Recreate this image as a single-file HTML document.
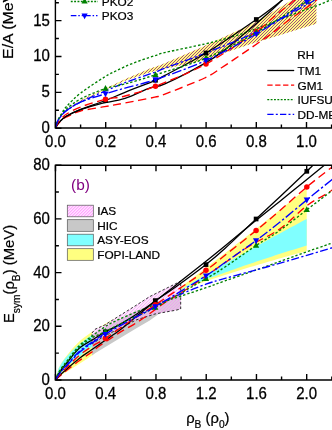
<!DOCTYPE html>
<html lang="en"><head><meta charset="utf-8"><title>Symmetry energy</title>
<style>
html,body{margin:0;padding:0;background:#fff;}
body{width:332px;height:430px;overflow:hidden;}
svg{display:block;will-change:transform;}
text{font-family:"Liberation Sans",sans-serif;fill:#000;}
.tk{font-size:15px;stroke:#000;stroke-width:0.25px;}
.lg{font-size:11.8px;stroke:#000;stroke-width:0.22px;}
.ti{font-size:15.6px;stroke:#000;stroke-width:0.22px;}
.sb{font-size:10.2px;}
</style></head><body>
<svg width="332" height="430" viewBox="0 0 332 430">
<defs>
<pattern id="hy" width="1.75" height="1.75" patternUnits="userSpaceOnUse" patternTransform="rotate(45)"><rect width="1.75" height="1.75" fill="#ffff80"/><line x1="0.9" y1="0" x2="0.9" y2="1.75" stroke="#8a2a6a" stroke-width="0.55"/></pattern>
<pattern id="hp" width="2.4" height="2.4" patternUnits="userSpaceOnUse" patternTransform="rotate(45)"><line x1="1.2" y1="0" x2="1.2" y2="2.4" stroke="#ff50ff" stroke-width="0.55"/></pattern>
<clipPath id="ct"><rect x="55.5" y="-5" width="400" height="133"/></clipPath>
<clipPath id="cb"><rect x="55.5" y="165.3" width="400" height="214.7"/></clipPath>
</defs>
<rect width="332" height="430" fill="#fff"/>
<g clip-path="url(#ct)">
<clipPath id="cband"><path d="M66,109.8L80.6,100.3L90,95.7L100,91.2L125,79.2L150,68.5L160,65.2L200,48L250,24.9L292.2,0L300,-5L316.4,-5L316.4,23.7L277,35.9L250,44.2L200,61.3L160,69.8L150,72.2L125,80.8L100,92.3L90,96.9L80.6,101.6L66,111Z"/></clipPath>
<path d="M66,109.8L80.6,100.3L90,95.7L100,91.2L125,79.2L150,68.5L160,65.2L200,48L250,24.9L292.2,0L300,-5L316.4,-5L316.4,23.7L277,35.9L250,44.2L200,61.3L160,69.8L150,72.2L125,80.8L100,92.3L90,96.9L80.6,101.6L66,111Z" fill="#ffff80"/>
<path d="M60,110 l120,-120M63,110 l120,-120M66,110 l120,-120M69,110 l120,-120M72,110 l120,-120M75,110 l120,-120M78,110 l120,-120M81,110 l120,-120M84,110 l120,-120M87,110 l120,-120M90,110 l120,-120M93,110 l120,-120M96,110 l120,-120M99,110 l120,-120M102,110 l120,-120M105,110 l120,-120M108,110 l120,-120M111,110 l120,-120M114,110 l120,-120M117,110 l120,-120M120,110 l120,-120M123,110 l120,-120M126,110 l120,-120M129,110 l120,-120M132,110 l120,-120M135,110 l120,-120M138,110 l120,-120M141,110 l120,-120M144,110 l120,-120M147,110 l120,-120M150,110 l120,-120M153,110 l120,-120M156,110 l120,-120M159,110 l120,-120M162,110 l120,-120M165,110 l120,-120M168,110 l120,-120M171,110 l120,-120M174,110 l120,-120M177,110 l120,-120M180,110 l120,-120M183,110 l120,-120M186,110 l120,-120M189,110 l120,-120M192,110 l120,-120M195,110 l120,-120M198,110 l120,-120M201,110 l120,-120M204,110 l120,-120M207,110 l120,-120M210,110 l120,-120M213,110 l120,-120M216,110 l120,-120M219,110 l120,-120M222,110 l120,-120M225,110 l120,-120M228,110 l120,-120M231,110 l120,-120M234,110 l120,-120M237,110 l120,-120M240,110 l120,-120M243,110 l120,-120M246,110 l120,-120M249,110 l120,-120M252,110 l120,-120M255,110 l120,-120M258,110 l120,-120M261,110 l120,-120M264,110 l120,-120M267,110 l120,-120M270,110 l120,-120M273,110 l120,-120M276,110 l120,-120M279,110 l120,-120M282,110 l120,-120M285,110 l120,-120M288,110 l120,-120M291,110 l120,-120M294,110 l120,-120M297,110 l120,-120M300,110 l120,-120M303,110 l120,-120M306,110 l120,-120M309,110 l120,-120M312,110 l120,-120M315,110 l120,-120M318,110 l120,-120M321,110 l120,-120M324,110 l120,-120M327,110 l120,-120" stroke="#800080" stroke-width="0.72" fill="none" clip-path="url(#cband)"/>
<path d="M55.5,128C55.92,126.83 56.92,123.5 58,121C59.08,118.5 60.57,115.43 62,113C63.43,110.57 63.5,109.72 66.6,106.4C69.7,103.08 74.25,98.02 80.6,93.1C86.95,88.18 98.7,80.65 104.7,76.9C110.7,73.15 111.87,72.88 116.6,70.6C121.33,68.32 126.75,65.68 133.1,63.2C139.45,60.72 149.22,57.52 154.7,55.7C160.18,53.88 157.67,54.25 166,52.3C174.33,50.35 194.07,46.47 204.7,44C215.32,41.53 222.2,39.67 229.75,37.5C237.3,35.33 239.96,34.67 250,31C260.04,27.33 278.93,19.7 290,15.5C301.07,11.3 310.23,8.13 316.4,5.8C322.57,3.47 323.73,2.8 327,1.5C330.27,0.2 334.5,-1.42 336,-2" fill="none" stroke="#008000" stroke-width="1.35" stroke-dasharray="2.4,2.0"/>
<path d="M55.5,128C55.92,127.33 56.92,125.33 58,124C59.08,122.67 60.57,121.17 62,120C63.43,118.83 63.5,118.5 66.6,117C69.7,115.5 74.25,112.72 80.6,111C86.95,109.28 97.3,108.03 104.7,106.7C112.1,105.37 116.67,104.58 125,103C133.33,101.42 148.05,98.68 154.7,97.2C161.35,95.72 156.57,97.3 164.9,94.1C173.23,90.9 195.2,82.43 204.7,78C214.2,73.57 216.75,70.77 221.9,67.5C227.05,64.23 230.92,61.55 235.6,58.4C240.28,55.25 244.57,52.33 250,48.6C255.43,44.87 263.7,39.2 268.2,36C272.7,32.8 274.27,31.52 277,29.4C279.73,27.28 281.95,25.32 284.6,23.3C287.25,21.28 290.4,19.05 292.9,17.3C295.4,15.55 295.65,15.68 299.6,12.8C303.55,9.92 312.53,3.05 316.6,0C320.67,-3.05 322.77,-4.58 324,-5.5" fill="none" stroke="#ff0000" stroke-width="1.35" stroke-dasharray="8.2,4.6"/>
<path d="M55.5,128C55.92,127.25 56.92,124.92 58,123.5C59.08,122.08 60.57,120.75 62,119.5C63.43,118.25 63.5,117.63 66.6,116C69.7,114.37 75.03,111.73 80.6,109.7C86.17,107.67 92.6,105.68 100,103.8C107.4,101.92 116.67,101.05 125,98.4C133.33,95.75 143.35,90.32 150,87.9C156.65,85.48 155.78,87.98 164.9,83.9C174.02,79.82 194.7,69.1 204.7,63.4C214.7,57.7 216.57,56.12 224.9,49.7C233.23,43.28 246.35,32.02 254.7,24.9C263.05,17.78 269.78,11.82 275,7C280.22,2.18 284.17,-2.17 286,-4" fill="none" stroke="#000" stroke-width="1.3"/>
<path d="M55.5,128C55.92,126.75 56.92,122.67 58,120.5C59.08,118.33 60.57,116.67 62,115C63.43,113.33 63.5,112.67 66.6,110.5C69.7,108.33 73.65,105.47 80.6,102C87.55,98.53 100.9,92.93 108.3,89.7C115.7,86.47 117.27,85.5 125,82.6C132.73,79.7 148.05,74.72 154.7,72.3C161.35,69.88 156.35,71.32 164.9,68.1C173.45,64.88 190.82,59.02 206,53C221.18,46.98 239.55,39.87 256,32C272.45,24.13 294.03,11.63 304.7,5.8C315.37,-0.03 317.45,-1.53 320,-3" fill="none" stroke="#0000ff" stroke-width="1.35" stroke-dasharray="8,2.4,2.2,2.4"/>
<path d="M55.5,128C55.92,127.25 56.92,124.92 58,123.5C59.08,122.08 60.57,120.75 62,119.5C63.43,118.25 63.5,117.68 66.6,116C69.7,114.32 74.12,111.98 80.6,109.4C87.08,106.82 98.1,103.35 105.5,100.5C112.9,97.65 116.67,95.67 125,92.3C133.33,88.93 148.85,83.12 155.5,80.3C162.15,77.48 156.48,79.95 164.9,75.4C173.32,70.85 190.77,62.32 206,53C221.23,43.68 243.58,28.33 256.3,19.5C269.02,10.67 276.68,4.25 282.3,0C287.92,-4.25 288.72,-5 290,-6" fill="none" stroke="#000" stroke-width="1.3"/>
<path d="M55.5,128C55.92,127.08 56.92,124.17 58,122.5C59.08,120.83 60.57,119.42 62,118C63.43,116.58 63.5,115.83 66.6,114C69.7,112.17 74.12,109.45 80.6,107C87.08,104.55 98.1,101.13 105.5,99.3C112.9,97.47 116.67,98.18 125,96C133.33,93.82 142,91.55 155.5,86.2C169,80.85 189.2,73.02 206,63.9C222.8,54.78 245.22,39.15 256.3,31.5C267.38,23.85 268.38,21.42 272.5,18C276.62,14.58 278.3,13.17 281,11C283.7,8.83 286.37,6.83 288.7,5C291.03,3.17 292.95,1.67 295,0C297.05,-1.67 300,-4.17 301,-5" fill="none" stroke="#ff0000" stroke-width="1.35" stroke-dasharray="8.2,4.6"/>
<path d="M55.5,128C55.92,126.67 56.92,122.33 58,120C59.08,117.67 60.57,115.85 62,114C63.43,112.15 63.5,111.42 66.6,108.9C69.7,106.38 74.12,102.3 80.6,98.9C87.08,95.5 98.1,90.98 105.5,88.5C112.9,86.02 116.67,86.28 125,84C133.33,81.72 142,79.13 155.5,74.8C169,70.47 189.2,65.05 206,58C222.8,50.95 239.5,42 256.3,32.5C273.1,23 296.18,7.75 306.8,1C317.42,-5.75 317.8,-6.5 320,-8" fill="none" stroke="#008000" stroke-width="1.35" stroke-dasharray="2.4,2.0"/>
<path d="M55.5,128C55.92,126.75 56.92,122.67 58,120.5C59.08,118.33 60.57,116.67 62,115C63.43,113.33 63.5,112.63 66.6,110.5C69.7,108.37 74.12,104.98 80.6,102.2C87.08,99.42 98.1,96.15 105.5,93.8C112.9,91.45 116.67,90.47 125,88.1C133.33,85.73 142,84.22 155.5,79.6C169,74.98 189.2,68 206,60.4C222.8,52.8 239.5,43.78 256.3,34C273.1,24.22 296.18,8.53 306.8,1.7C317.42,-5.13 317.8,-5.55 320,-7" fill="none" stroke="#0000ff" stroke-width="1.35" stroke-dasharray="9.6,2.4,2.3,2.4"/>
<rect x="103.15" y="98.15" width="4.7" height="4.7" fill="#000"/>
<rect x="153.15" y="77.95" width="4.7" height="4.7" fill="#000"/>
<rect x="203.65" y="50.65" width="4.7" height="4.7" fill="#000"/>
<rect x="253.95" y="17.15" width="4.7" height="4.7" fill="#000"/>
<circle cx="105.5" cy="99.3" r="2.75" fill="#ff0000"/>
<circle cx="155.5" cy="86.2" r="2.75" fill="#ff0000"/>
<circle cx="206" cy="63.9" r="2.75" fill="#ff0000"/>
<circle cx="256.3" cy="31.5" r="2.75" fill="#ff0000"/>
<path d="M105.5,84.94 L108.6,90.83 L102.4,90.83 Z" fill="#008000"/>
<path d="M155.5,71.23 L158.6,77.12 L152.4,77.12 Z" fill="#008000"/>
<path d="M206,54.44 L209.1,60.33 L202.9,60.33 Z" fill="#008000"/>
<path d="M256.3,28.93 L259.4,34.83 L253.2,34.83 Z" fill="#008000"/>
<path d="M306.8,-2.56 L309.9,3.33 L303.7,3.33 Z" fill="#008000"/>
<path d="M105.5,97.36 L108.6,91.47 L102.4,91.47 Z" fill="#0000ff"/>
<path d="M155.5,83.16 L158.6,77.27 L152.4,77.27 Z" fill="#0000ff"/>
<path d="M206,63.96 L209.1,58.07 L202.9,58.07 Z" fill="#0000ff"/>
<path d="M256.3,37.56 L259.4,31.68 L253.2,31.68 Z" fill="#0000ff"/>
<path d="M306.8,5.26 L309.9,-0.63 L303.7,-0.63 Z" fill="#0000ff"/>
</g>
<g stroke="#000" stroke-width="1.4" fill="none">
<path d="M55.4,-2 V128 H334"/>
<path d="M55.5,128.2 h6M55.5,92.35 h6M55.5,56.5 h6M55.5,20.65 h6M55.5,110.27 h3.4M55.5,74.42 h3.4M55.5,38.57 h3.4M55.5,2.72 h3.4M55.5,128 v-6M80.6,128 v-3.6M105.7,128 v-6M130.8,128 v-3.6M155.9,128 v-6M181,128 v-3.6M206.1,128 v-6M231.2,128 v-3.6M256.3,128 v-6M281.4,128 v-3.6M306.5,128 v-6M331.6,128 v-3.6"/>
</g>
<text class="tk" transform="translate(49.8,133.1) scale(1,1.07)" text-anchor="end">0</text>
<text class="tk" transform="translate(49.8,97.25) scale(1,1.07)" text-anchor="end">5</text>
<text class="tk" transform="translate(49.8,61.4) scale(1,1.07)" text-anchor="end">10</text>
<text class="tk" transform="translate(49.8,25.55) scale(1,1.07)" text-anchor="end">15</text>
<text class="tk" transform="translate(55.5,147.1) scale(1,1.07)" text-anchor="middle">0.0</text>
<text class="tk" transform="translate(105.7,147.1) scale(1,1.07)" text-anchor="middle">0.2</text>
<text class="tk" transform="translate(155.9,147.1) scale(1,1.07)" text-anchor="middle">0.4</text>
<text class="tk" transform="translate(206.1,147.1) scale(1,1.07)" text-anchor="middle">0.6</text>
<text class="tk" transform="translate(256.3,147.1) scale(1,1.07)" text-anchor="middle">0.8</text>
<text class="tk" transform="translate(306.5,147.1) scale(1,1.07)" text-anchor="middle">1.0</text>
<text class="ti" style="font-size:15.9px" transform="translate(12.8,58.9) rotate(-90) scale(1,0.94)">E/A (MeV)</text>
<path d="M70.8,1.5 H98" stroke="#008000" stroke-width="1.3" stroke-dasharray="1.9,1.45" fill="none"/>
<path d="M84.6,-2.26 L87.7,3.62 L81.5,3.62 Z" fill="#008000"/>
<text class="lg" x="101.8" y="5.5">PKO2</text>
<path d="M70.8,15.7 H98" stroke="#0000ff" stroke-width="1.3" stroke-dasharray="5.6,1.9,1.5,1.9,1.5,1.9" fill="none"/>
<path d="M84.6,19.27 L87.7,13.38 L81.5,13.38 Z" fill="#0000ff"/>
<text class="lg" x="101.8" y="19.6">PKO3</text>
<text class="lg" x="297.3" y="58.6">RH</text>
<path d="M267.3,70.5 H294.2" stroke="#000" stroke-width="1.3" fill="none"/>
<text class="lg" x="297.5" y="74.8">TM1</text>
<path d="M267.3,85.2 H294.2" stroke="#ff0000" stroke-width="1.3" fill="none" stroke-dasharray="5.3,2.6"/>
<text class="lg" x="297.5" y="89.5">GM1</text>
<path d="M267.3,99.7 H294.2" stroke="#008000" stroke-width="1.3" fill="none" stroke-dasharray="1.9,1.45"/>
<text class="lg" x="297.5" y="104">IUFSU</text>
<path d="M267.3,114.3 H294.2" stroke="#0000ff" stroke-width="1.3" fill="none" stroke-dasharray="6.3,2.2,2,2.2"/>
<text class="lg" x="297.5" y="118.6">DD-ME2</text>
<g clip-path="url(#cb)">
<path d="M55.5,380L58.64,367.91L61.78,362.42L64.92,358.09L68.06,353.93L71.2,350.06L74.34,346.51L77.48,343.21L80.62,340.13L83.76,337.73L86.9,335.45L90.04,333.28L93.18,331.2L96.32,329.21L99.46,327.28L102.6,325.42L105.74,323.62L108.88,321.86L112.02,320.16L115.16,318.5L118.3,316.88L121.44,315.3L124.58,313.76L127.72,312.24L130.86,310.76L134,309.31L137.14,307.88L140.28,306.48L143.42,305.1L146.56,303.74L149.7,302.41L152.84,301.09L155.98,299.8L159.12,298.52L162.26,297.27L165.4,296.03L168.54,294.8L171.68,293.59L174.82,292.4L177.96,291.22L181.1,290.05L184.24,288.9L187.38,287.76L190.52,286.63L193.66,285.52L196.8,284.41L199.94,283.32L203.08,282.24L206.22,281.17L209.36,280.11L212.5,279.06L215.64,278.02L218.78,276.98L221.92,275.96L225.06,274.94L228.2,273.94L231.34,272.94L234.48,271.95L237.62,270.97L240.76,270L243.9,269.03L247.04,268.07L250.18,267.12L253.32,266.17L256.46,265.23L259.6,264.3L262.74,263.38L265.88,262.46L269.02,261.54L272.16,260.64L275.3,259.74L278.44,258.84L281.58,257.95L284.72,257.07L287.86,256.19L291,255.32L294.14,254.45L297.28,253.59L300.42,252.73L303.56,251.88L306.7,251.03L306.7,188.34L303.56,190.88L300.42,193.42L297.28,195.95L294.14,198.48L291,201.01L287.86,203.53L284.72,206.05L281.58,208.57L278.44,211.08L275.3,213.58L272.16,216.09L269.02,218.58L265.88,221.08L262.74,223.57L259.6,226.06L256.46,228.54L253.32,231.02L250.18,233.49L247.04,235.97L243.9,238.43L240.76,240.89L237.62,243.35L234.48,245.81L231.34,248.26L228.2,250.7L225.06,253.14L221.92,255.58L218.78,258.01L215.64,260.44L212.5,262.86L209.36,265.28L206.22,267.69L203.08,270.1L199.94,272.5L196.8,274.9L193.66,277.3L190.52,279.69L187.38,282.07L184.24,284.45L181.1,286.83L177.96,289.2L174.82,291.57L171.68,293.93L168.54,296.28L165.4,298.63L162.26,300.98L159.12,303.32L155.98,305.65L152.84,307.98L149.7,310.31L146.56,312.63L143.42,314.94L140.28,317.25L137.14,319.55L134,322.09L130.86,324.63L127.72,327.18L124.58,329.73L121.44,332.27L118.3,334.81L115.16,337.34L112.02,339.86L108.88,342.36L105.74,344.84L102.6,347.3L99.46,349.72L96.32,352.11L93.18,354.47L90.04,356.78L86.9,359.05L83.76,361.07L80.62,363.07L77.48,365.05L74.34,367.01L71.2,368.96L68.06,370.9L64.92,372.84L61.78,374.84L58.64,376.96L55.5,380Z" fill="#ffff80"/>
<path d="M55.5,380L58.64,368.46L61.78,363.09L64.92,358.83L68.06,355.16L71.2,351.87L74.34,348.86L77.48,346.06L80.62,343.43L83.76,340.93L86.9,338.56L90.04,336.28L93.18,334.09L96.32,331.98L99.46,329.94L102.6,327.95L105.74,326.03L108.88,324.15L112.02,322.32L115.16,320.54L118.3,318.79L121.44,317.08L124.58,315.41L127.72,313.77L130.86,312.15L134,310.57L137.14,309.01L140.28,307.48L143.42,305.97L146.56,304.49L149.7,303.02L152.84,301.58L155.98,300.16L159.12,298.75L162.26,297.37L165.4,296L168.54,294.64L171.68,293.3L174.82,291.98L177.96,290.67L181.1,289.38L184.24,288.1L187.38,286.83L190.52,285.58L193.66,284.34L196.8,283.11L199.94,281.89L203.08,280.68L206.22,279.49L209.36,278.3L212.5,277.12L215.64,275.96L218.78,274.8L221.92,273.65L225.06,272.51L228.2,271.39L231.34,270.26L234.48,269.15L237.62,268.05L240.76,266.95L243.9,265.86L247.04,264.78L250.18,263.71L253.32,262.64L256.46,261.58L259.6,260.53L262.74,259.49L265.88,258.45L269.02,257.42L272.16,256.39L275.3,255.37L278.44,254.36L281.58,253.35L284.72,252.35L287.86,251.35L291,250.36L294.14,249.38L297.28,248.4L300.42,247.42L303.56,246.45L306.7,245.49L306.7,218.94L303.56,220.62L300.42,222.3L297.28,223.98L294.14,225.67L291,227.36L287.86,229.05L284.72,230.75L281.58,232.45L278.44,234.16L275.3,235.86L272.16,237.57L269.02,239.29L265.88,241.01L262.74,242.73L259.6,244.46L256.46,246.19L253.32,247.93L250.18,249.67L247.04,251.41L243.9,253.16L240.76,254.91L237.62,256.67L234.48,258.44L231.34,260.2L228.2,261.98L225.06,263.75L221.92,265.54L218.78,267.32L215.64,269.12L212.5,270.92L209.36,272.72L206.22,274.53L203.08,276.35L199.94,278.17L196.8,280L193.66,281.84L190.52,283.68L187.38,285.53L184.24,287.38L181.1,289.25L177.96,291.12L174.82,293L171.68,294.88L168.54,296.78L165.4,298.68L162.26,300.59L159.12,302.52L155.98,304.45L152.84,306.39L149.7,308.34L146.56,310.3L143.42,312.27L140.28,314.26L137.14,316.26L134,318.27L130.86,320.29L127.72,322.33L124.58,324.38L121.44,326.45L118.3,328.53L115.16,330.63L112.02,332.75L108.88,334.9L105.74,337.06L102.6,339.25L99.46,341.46L96.32,343.7L93.18,345.97L90.04,348.27L86.9,350.61L83.76,353L80.62,355.43L77.48,357.92L74.34,360.47L71.2,363.1L68.06,365.84L64.92,368.71L61.78,371.78L58.64,375.2L55.5,380Z" fill="#80ffff"/>
<path d="M92,336L95,333L104.7,327.5L136,311L160,301L180.7,295L180.7,309L160.2,313L149.7,320.5L136,328.5L95,353.2L92,355.4Z" fill="#c8c8c8"/>
<clipPath id="cias"><path d="M92,333L95,329.3L104.7,325L136,305.4L149.7,296.6L175.9,283.6L180.7,281L180.7,309L175.9,310.2L155.3,313.9L136,320L104.7,336L95,342L92,344Z"/></clipPath>
<path d="M92,333L95,329.3L104.7,325L136,305.4L149.7,296.6L175.9,283.6L180.7,281L180.7,309L175.9,310.2L155.3,313.9L136,320L104.7,336L95,342L92,344Z" fill="#fbeafb"/>
<path d="M92,336L95,333L104.7,327.5L136,311L160,301L180.7,295L180.7,309L160.2,313L149.7,320.5L136,328.5L95,353.2L92,355.4Z" fill="#dfc9df" clip-path="url(#cias)"/>
<path d="M60,350 l90,-90M63,350 l90,-90M66,350 l90,-90M69,350 l90,-90M72,350 l90,-90M75,350 l90,-90M78,350 l90,-90M81,350 l90,-90M84,350 l90,-90M87,350 l90,-90M90,350 l90,-90M93,350 l90,-90M96,350 l90,-90M99,350 l90,-90M102,350 l90,-90M105,350 l90,-90M108,350 l90,-90M111,350 l90,-90M114,350 l90,-90M117,350 l90,-90M120,350 l90,-90M123,350 l90,-90M126,350 l90,-90M129,350 l90,-90M132,350 l90,-90M135,350 l90,-90M138,350 l90,-90M141,350 l90,-90M144,350 l90,-90M147,350 l90,-90M150,350 l90,-90M153,350 l90,-90M156,350 l90,-90M159,350 l90,-90M162,350 l90,-90M165,350 l90,-90M168,350 l90,-90M171,350 l90,-90M174,350 l90,-90M177,350 l90,-90M180,350 l90,-90M183,350 l90,-90M186,350 l90,-90M189,350 l90,-90M192,350 l90,-90M195,350 l90,-90M198,350 l90,-90" stroke="#ff80ff" stroke-width="0.55" fill="none" clip-path="url(#cias)"/>
<path d="M92,333L95,329.3L104.7,325L136,305.4L149.7,296.6L175.9,283.6L180.7,281L180.7,309L175.9,310.2L155.3,313.9L136,320L104.7,336L95,342L92,344Z" fill="none" stroke="#000" stroke-width="0.8" stroke-dasharray="2.6,2"/>
<path d="M55.5,380C55.92,378.98 56.92,376.02 58,373.9C59.08,371.78 60.48,369.48 62,367.3C63.52,365.12 64.23,364.4 67.1,360.8C69.97,357.2 75.17,349.72 79.2,345.7C83.23,341.68 87.05,339.83 91.3,336.7C95.55,333.57 99.93,329.85 104.7,326.9C109.47,323.95 112.4,322.38 119.9,319C127.4,315.62 142.02,309.6 149.7,306.6C157.38,303.6 160.78,302.77 166,301C171.22,299.23 174.33,298.22 181,296C187.67,293.78 198.67,290.22 206,287.7C213.33,285.18 217.83,283.45 225,280.9C232.17,278.35 242.35,274.73 249,272.4C255.65,270.07 255.27,270.33 264.9,266.9C274.53,263.47 296.83,255.35 306.8,251.8C316.77,248.25 320.58,247.03 324.7,245.6C328.82,244.17 328.95,244.1 331.5,243.2C334.05,242.3 338.58,240.7 340,240.2" fill="none" stroke="#008000" stroke-width="1.35" stroke-dasharray="2.4,2.0"/>
<path d="M55.5,380C55.92,379.28 56.92,377.33 58,375.7C59.08,374.07 60.48,372.05 62,370.2C63.52,368.35 64.23,367.72 67.1,364.6C69.97,361.48 75.17,355.17 79.2,351.5C83.23,347.83 87.05,345.6 91.3,342.6C95.55,339.6 98.25,337.52 104.7,333.5C111.15,329.48 122.5,322.5 130,318.5C137.5,314.5 143.7,312.5 149.7,309.5C155.7,306.5 160.78,303.08 166,300.5C171.22,297.92 174.33,296.72 181,294C187.67,291.28 198.67,286.8 206,284.2C213.33,281.6 217.83,280.47 225,278.4C232.17,276.33 242.35,273.62 249,271.8C255.65,269.98 255.27,270.25 264.9,267.5C274.53,264.75 295.7,258.55 306.8,255.3C317.9,252.05 325.97,249.62 331.5,248C337.03,246.38 338.58,246 340,245.6" fill="none" stroke="#0000ff" stroke-width="1.35" stroke-dasharray="8,2.4,2.2,2.4"/>
<path d="M55.5,380C55.92,379.6 56.92,378.57 58,377.6C59.08,376.63 60.48,375.47 62,374.2C63.52,372.93 64.23,372.23 67.1,370C69.97,367.77 75.17,363.73 79.2,360.8C83.23,357.87 88.12,354.73 91.3,352.4C94.48,350.07 95.18,349.05 98.3,346.8C101.42,344.55 106.13,341.47 110,338.9C113.87,336.33 117.65,333.75 121.5,331.4C125.35,329.05 129.23,327.15 133.1,324.8C136.97,322.45 139.22,321.13 144.7,317.3C150.18,313.47 159.28,306.3 166,301.8C172.72,297.3 176,296.23 185,290.3C194,284.37 209.42,273.5 220,266.2C230.58,258.9 238.55,252.7 248.5,246.5C258.45,240.3 269.98,235.8 279.7,229C289.42,222.2 299.3,211.38 306.8,205.7C314.3,200.02 320.58,197.43 324.7,194.9C328.82,192.37 328.95,192.15 331.5,190.5C334.05,188.85 338.58,185.92 340,185" fill="none" stroke="#ff0000" stroke-width="1.35" stroke-dasharray="8.2,4.6"/>
<path d="M55.5,380C55.92,379.53 56.92,378.32 58,377.2C59.08,376.08 60.48,374.72 62,373.3C63.52,371.88 64.23,371.18 67.1,368.7C69.97,366.22 75.17,361.52 79.2,358.4C83.23,355.28 86.93,353.03 91.3,350C95.67,346.97 100.63,343.53 105.4,340.2C110.17,336.87 114.8,333.9 119.9,330C125,326.1 131.03,320.87 136,316.8C140.97,312.73 144.03,310.1 149.7,305.6C155.37,301.1 164.12,294.43 170,289.8C175.88,285.17 179,282.55 185,277.8C191,273.05 199.35,266.6 206,261.3C212.65,256 216.55,252.83 224.9,246C233.25,239.17 246.97,227.73 256.1,220.3C265.23,212.87 271.45,208.05 279.7,201.4C287.95,194.75 298.22,186.38 305.6,180.4C312.98,174.42 319.6,169.07 324,165.5C328.4,161.93 330.67,160.08 332,159" fill="none" stroke="#000" stroke-width="1.3"/>
<path d="M55.5,380C55.92,379.13 56.92,376.7 58,374.8C59.08,372.9 60.48,370.65 62,368.6C63.52,366.55 64.23,365.88 67.1,362.5C69.97,359.12 75.03,352.05 79.2,348.3C83.37,344.55 87.73,342.75 92.1,340C96.47,337.25 100.77,334.38 105.4,331.8C110.03,329.22 114.8,327.38 119.9,324.5C125,321.62 131.03,317.75 136,314.5C140.97,311.25 146.48,307.32 149.7,305C152.92,302.68 151.92,302.93 155.3,300.6C158.68,298.27 165.05,294.38 170,291C174.95,287.62 179,284.7 185,280.3C191,275.9 199.35,269.9 206,264.6C212.65,259.3 216.55,256.1 224.9,248.5C233.25,240.9 246.97,227.58 256.1,219C265.23,210.42 271.25,204.95 279.7,197C288.15,189.05 301.25,176.58 306.8,171.3C312.35,166.02 310.97,167.27 313,165.3C315.03,163.33 318,160.47 319,159.5" fill="none" stroke="#000" stroke-width="1.3"/>
<path d="M55.5,380C55.92,379.47 56.92,378.13 58,376.8C59.08,375.47 60.48,373.63 62,372C63.52,370.37 64.23,369.75 67.1,367C69.97,364.25 75.03,358.95 79.2,355.5C83.37,352.05 87.73,349.15 92.1,346.3C96.47,343.45 99.08,342.57 105.4,338.4C111.72,334.23 121.68,326.9 130,321.3C138.32,315.7 142.63,313.3 155.3,304.8C167.97,296.3 194.38,278.57 206,270.3C217.62,262.03 216.65,261.82 225,255.2C233.35,248.58 246.98,238.02 256.1,230.6C265.22,223.18 271.25,217.97 279.7,210.7C288.15,203.43 298.17,194.2 306.8,187C315.43,179.8 325.97,171.83 331.5,167.5C337.03,163.17 338.58,162.08 340,161" fill="none" stroke="#ff0000" stroke-width="1.35" stroke-dasharray="8.2,4.6"/>
<path d="M55.5,380C55.92,379.07 56.92,376.4 58,374.4C59.08,372.4 60.48,370.1 62,368C63.52,365.9 64.23,365.3 67.1,361.8C69.97,358.3 75.17,350.92 79.2,347C83.23,343.08 86.93,340.88 91.3,338.3C95.67,335.72 98.95,334.72 105.4,331.5C111.85,328.28 121.68,323 130,319C138.32,315 142.63,314.23 155.3,307.5C167.97,300.77 194.38,285.35 206,278.6C217.62,271.85 216.65,272.52 225,267C233.35,261.48 246.98,251.58 256.1,245.5C265.22,239.42 271.25,236.45 279.7,230.5C288.15,224.55 298.17,216.38 306.8,209.8C315.43,203.22 325.97,195.22 331.5,191C337.03,186.78 338.58,185.58 340,184.5" fill="none" stroke="#008000" stroke-width="1.35" stroke-dasharray="2.4,2.0"/>
<path d="M55.5,380C55.92,379.33 56.92,377.57 58,376C59.08,374.43 60.48,372.38 62,370.6C63.52,368.82 64.23,368.3 67.1,365.3C69.97,362.3 75.17,356.23 79.2,352.6C83.23,348.97 86.93,346.57 91.3,343.5C95.67,340.43 98.95,338.07 105.4,334.2C111.85,330.33 121.68,324.9 130,320.3C138.32,315.7 142.63,314.03 155.3,306.6C167.97,299.17 194.38,283.05 206,275.7C217.62,268.35 216.65,268.35 225,262.5C233.35,256.65 246.98,247.3 256.1,240.6C265.22,233.9 271.25,229.08 279.7,222.3C288.15,215.52 298.17,206.95 306.8,199.9C315.43,192.85 325.97,184.48 331.5,180C337.03,175.52 338.58,174.17 340,173" fill="none" stroke="#0000ff" stroke-width="1.35" stroke-dasharray="9.6,2.4,2.3,2.4"/>
<rect x="103.05" y="329.45" width="4.7" height="4.7" fill="#000"/>
<rect x="152.95" y="298.25" width="4.7" height="4.7" fill="#000"/>
<rect x="203.65" y="262.25" width="4.7" height="4.7" fill="#000"/>
<rect x="253.75" y="216.65" width="4.7" height="4.7" fill="#000"/>
<rect x="304.45" y="168.95" width="4.7" height="4.7" fill="#000"/>
<circle cx="105.4" cy="338.4" r="2.75" fill="#ff0000"/>
<circle cx="155.3" cy="304.8" r="2.75" fill="#ff0000"/>
<circle cx="206" cy="270.3" r="2.75" fill="#ff0000"/>
<circle cx="256.1" cy="230.6" r="2.75" fill="#ff0000"/>
<circle cx="306.8" cy="187" r="2.75" fill="#ff0000"/>
<path d="M105.4,327.94 L108.5,333.82 L102.3,333.82 Z" fill="#008000"/>
<path d="M155.3,303.94 L158.4,309.82 L152.2,309.82 Z" fill="#008000"/>
<path d="M206,275.04 L209.1,280.93 L202.9,280.93 Z" fill="#008000"/>
<path d="M256.1,241.94 L259.2,247.82 L253,247.82 Z" fill="#008000"/>
<path d="M306.8,206.24 L309.9,212.12 L303.7,212.12 Z" fill="#008000"/>
<path d="M105.4,337.76 L108.5,331.88 L102.3,331.88 Z" fill="#0000ff"/>
<path d="M155.3,310.17 L158.4,304.28 L152.2,304.28 Z" fill="#0000ff"/>
<path d="M206,279.26 L209.1,273.38 L202.9,273.38 Z" fill="#0000ff"/>
<path d="M256.1,244.16 L259.2,238.28 L253,238.28 Z" fill="#0000ff"/>
<path d="M306.8,203.47 L309.9,197.58 L303.7,197.58 Z" fill="#0000ff"/>
</g>
<g stroke="#000" stroke-width="1.4" fill="none">
<path d="M334,165.3 H55.4 V380 H334"/>
<path d="M55.5,380 h6M55.5,326.3 h6M55.5,272.6 h6M55.5,218.9 h6M55.5,165.2 h6M55.5,353.15 h3.4M55.5,299.45 h3.4M55.5,245.75 h3.4M55.5,192.05 h3.4M55.5,380 v-6M55.5,165.3 v6M80.62,380 v-3.6M80.62,165.3 v3.6M105.74,380 v-6M105.74,165.3 v6M130.86,380 v-3.6M130.86,165.3 v3.6M155.98,380 v-6M155.98,165.3 v6M181.1,380 v-3.6M181.1,165.3 v3.6M206.22,380 v-6M206.22,165.3 v6M231.34,380 v-3.6M231.34,165.3 v3.6M256.46,380 v-6M256.46,165.3 v6M281.58,380 v-3.6M281.58,165.3 v3.6M306.7,380 v-6M306.7,165.3 v6M331.82,380 v-3.6M331.82,165.3 v3.6"/>
</g>
<text class="tk" transform="translate(49.8,384.9) scale(1,1.07)" text-anchor="end">0</text>
<text class="tk" transform="translate(49.8,331.2) scale(1,1.07)" text-anchor="end">20</text>
<text class="tk" transform="translate(49.8,277.5) scale(1,1.07)" text-anchor="end">40</text>
<text class="tk" transform="translate(49.8,223.8) scale(1,1.07)" text-anchor="end">60</text>
<text class="tk" transform="translate(49.8,170.1) scale(1,1.07)" text-anchor="end">80</text>
<text class="tk" transform="translate(55.5,398.5) scale(1,1.07)" text-anchor="middle">0.0</text>
<text class="tk" transform="translate(105.74,398.5) scale(1,1.07)" text-anchor="middle">0.4</text>
<text class="tk" transform="translate(155.98,398.5) scale(1,1.07)" text-anchor="middle">0.8</text>
<text class="tk" transform="translate(206.22,398.5) scale(1,1.07)" text-anchor="middle">1.2</text>
<text class="tk" transform="translate(256.46,398.5) scale(1,1.07)" text-anchor="middle">1.6</text>
<text class="tk" transform="translate(306.7,398.5) scale(1,1.07)" text-anchor="middle">2.0</text>
<text class="ti" style="font-size:14.8px" x="186.2" y="422.6">ρ<tspan class="sb" dy="5.2">B</tspan><tspan dy="-5.2"> (ρ</tspan><tspan class="sb" dy="5.2">0</tspan><tspan dy="-5.2">)</tspan></text>
<text class="ti" style="font-size:14.85px" transform="translate(14.3,323.1) rotate(-90) scale(1,0.98)">E<tspan class="sb" dy="5.8">sym</tspan><tspan dy="-5.8">(ρ</tspan><tspan class="sb" dy="5.8">B</tspan><tspan dy="-5.8">) (MeV)</tspan></text>
<text x="71" y="190" style="font-size:15.4px;fill:#800080">(b)</text>
<clipPath id="clg"><rect x="67.3" y="205.2" width="26" height="11.6"/></clipPath>
<rect x="67.3" y="205.2" width="26" height="11.6" fill="#ffe2ff"/>
<path d="M52.3,218 l14,-14M55.3,218 l14,-14M58.3,218 l14,-14M61.3,218 l14,-14M64.3,218 l14,-14M67.3,218 l14,-14M70.3,218 l14,-14M73.3,218 l14,-14M76.3,218 l14,-14M79.3,218 l14,-14M82.3,218 l14,-14M85.3,218 l14,-14M88.3,218 l14,-14M91.3,218 l14,-14M94.3,218 l14,-14" stroke="#ff6cff" stroke-width="0.7" fill="none" clip-path="url(#clg)"/>
<rect x="67.3" y="205.2" width="26" height="11.6" fill="none" stroke="#555" stroke-width="0.7"/>
<rect x="67.3" y="219.7" width="26" height="11.6" fill="#c8c8c8" stroke="#555" stroke-width="0.7"/>
<rect x="67.3" y="234.2" width="26" height="11.6" fill="#80ffff" stroke="#555" stroke-width="0.7"/>
<rect x="67.3" y="248.7" width="26" height="11.6" fill="#ffff80" stroke="#555" stroke-width="0.7"/>
<text class="lg" x="97.2" y="215.2">IAS</text>
<text class="lg" x="97.2" y="229.7">HIC</text>
<text class="lg" x="97.2" y="244.2">ASY-EOS</text>
<text class="lg" x="97.2" y="258.7">FOPI-LAND</text>
</svg>
</body></html>
